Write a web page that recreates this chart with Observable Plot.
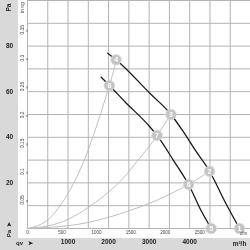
<!DOCTYPE html>
<html><head><meta charset="utf-8">
<script src="https://cdn.jsdelivr.net/npm/d3@7"></script>
<script src="https://cdn.jsdelivr.net/npm/@observablehq/plot@0.6"></script>
<style>
html,body{margin:0;padding:0;background:#fff;}
#wrap{position:relative;width:250px;height:250px;overflow:hidden;}
#bandL{position:absolute;left:0;top:0;width:18px;height:250px;background:#d9d9d9;}
#bandB{position:absolute;left:0;top:238px;width:250px;height:12px;background:#d9d9d9;}
#wrap svg{position:absolute;left:0;top:0;will-change:transform;}
</style></head><body><div id="wrap"><div id="bandL"></div><div id="bandB"></div></div>
<script>
// Tick values
const paTicks = [20, 40, 60, 80];
const inwgTicks = [0.05, 0.1, 0.15, 0.2, 0.25, 0.3, 0.35];
const cfmTicks = [0, 500, 1000, 1500, 2000, 2500];
const m3hTicks = [1000, 2000, 3000, 4000];
const gridQ = [0, 500, 1000, 1500, 2000, 2500, 3000, 3500, 4000, 4500, 5000];
const gridP = [0, 10, 20, 30, 40, 50, 60, 70, 80, 90, 100];

// Fan characteristic curves (qv in m³/h, pressure in Pa)
const upperQ = [1978, 2185, 3030, 3539, 3830, 4150, 4490, 4877, 5229];
const upperP = [76.9, 74.0, 59.1, 50.0, 42.8, 34.0, 25.1, 11.5, 0];
const lowerQ = [1815, 2020, 2414, 2988, 3195, 3603, 3973, 4303, 4532];
const lowerP = [66.4, 62.7, 55.4, 45.2, 40.8, 29.8, 19.3, 7.1, 0];

// System resistance curves
const sysAQ = [0, 500, 1000, 1500, 2020, 2185];
const sysAP = [0, 3.8, 15.4, 34.6, 62.7, 74.0];
const sysBQ = [0, 1000, 2000, 2500, 3000, 3195, 3539];
const sysBP = [0, 4.0, 16.0, 25.0, 36.0, 40.8, 50.0];
const sysCQ = [0, 1000, 2000, 3000, 3500, 3973, 4490];
const sysCP = [0, 1.2, 4.9, 11.0, 15.0, 19.3, 25.1];

// Operating point markers
const markerLabels = ["1", "2", "3", "4", "5", "6", "7", "8"];
const markerQ = [5229, 4490, 3539, 2185, 4532, 3973, 3195, 2020];
const markerP = [0, 25.1, 50.0, 74.0, 0, 19.3, 40.8, 62.7];

const PA_PER_INWG = 249.09;
const M3H_PER_CFM = 1.699;

const zip = (qs, ps) => qs.map((q, i) => ({q, p: ps[i]}));
const upper = zip(upperQ, upperP);
const lower = zip(lowerQ, lowerP);
const sysA = zip(sysAQ, sysAP);
const sysB = zip(sysBQ, sysBP);
const sysC = zip(sysCQ, sysCP);
const markers = markerLabels.map((l, i) => ({label: l, q: markerQ[i], p: markerP[i]}));

const font = "'Liberation Sans', Arial, sans-serif";
const lbl = (t, px, py, o = {}) => Plot.text([t], {text: d => d, frameAnchor: "top-left", dx: px - 27, dy: py, textAnchor: "middle", lineAnchor: "middle", fill: "#222", fontSize: 6.5, fontWeight: "bold", fontFamily: font, ...o});

const chart = Plot.plot({
  width: 250, height: 250,
  marginLeft: 27, marginRight: 0, marginTop: 0, marginBottom: 22,
  style: {background: "none", fontFamily: font, overflow: "visible"},
  x: {domain: [0, 5500], axis: null},
  y: {domain: [0, 100], axis: null},
  marks: [
    Plot.ruleX(gridQ, {stroke: "#b3b3b3", strokeWidth: 1}),
    Plot.ruleY(gridP, {stroke: "#b3b3b3", strokeWidth: 1}),
    Plot.axisY(paTicks, {anchor: "left", tickSize: 0, tickPadding: 18, textAnchor: "middle", fontWeight: "bold", fontSize: 6.5, fill: "#222", fontFamily: font, tickFormat: d => String(d), label: null}),
    Plot.axisY(inwgTicks.map(v => v * PA_PER_INWG), {anchor: "left", tickSize: 2, tickPadding: 3, textAnchor: "middle", rotate: -90, fontSize: 4.8, fill: "#444", stroke: "#666", fontFamily: font, tickFormat: d => String(+(d / PA_PER_INWG).toFixed(2)), label: null}),
    Plot.axisX(m3hTicks, {anchor: "bottom", tickSize: 0, tickPadding: 11, fontWeight: "bold", fontSize: 6.5, fill: "#222", fontFamily: font, tickFormat: d => String(d), label: null}),
    Plot.axisX(cfmTicks.map(c => c * M3H_PER_CFM), {anchor: "bottom", tickSize: 0, tickPadding: 2, fontSize: 4.5, fill: "#444", fontFamily: font, tickFormat: d => String(Math.round(d / M3H_PER_CFM)), label: null}),
    Plot.line(sysA, {x: "q", y: "p", stroke: "#b8b8b8", strokeWidth: 0.9, curve: "natural"}),
    Plot.line(sysB, {x: "q", y: "p", stroke: "#b8b8b8", strokeWidth: 0.9, curve: "natural"}),
    Plot.line(sysC, {x: "q", y: "p", stroke: "#b8b8b8", strokeWidth: 0.9, curve: "natural"}),
    Plot.line(upper, {x: "q", y: "p", stroke: "#1a1a1a", strokeWidth: 1.3, curve: "monotone-x"}),
    Plot.line(lower, {x: "q", y: "p", stroke: "#1a1a1a", strokeWidth: 1.3, curve: "monotone-x"}),
    Plot.dot(markers, {x: "q", y: "p", r: 5.3, fill: "#c4c4c4", stroke: "#dadada", strokeWidth: 0.8}),
    Plot.text(markers, {x: "q", y: "p", text: "label", fill: "white", fontWeight: "bold", fontSize: 7, fontFamily: font}),
    lbl("Pa", 8, 7, {rotate: -90}),
    lbl("in wg", 22, 7, {rotate: -90, fontSize: 4.5, fontWeight: "normal", fill: "#444"}),
    lbl("\u27A4", 9, 224, {rotate: -90, fontSize: 6}),
    lbl("Pa", 9, 233, {rotate: -90, fontSize: 6}),
    lbl("qv", 19, 243, {fontSize: 6}),
    lbl("\u27A4", 29.5, 243, {fontSize: 6}),
    lbl("m³/h", 239, 243),
    lbl("cfm", 243, 233, {fontSize: 4.5, fontWeight: "normal", fill: "#444"})
  ]
});
document.getElementById("wrap").appendChild(chart);
</script>
</body></html>
